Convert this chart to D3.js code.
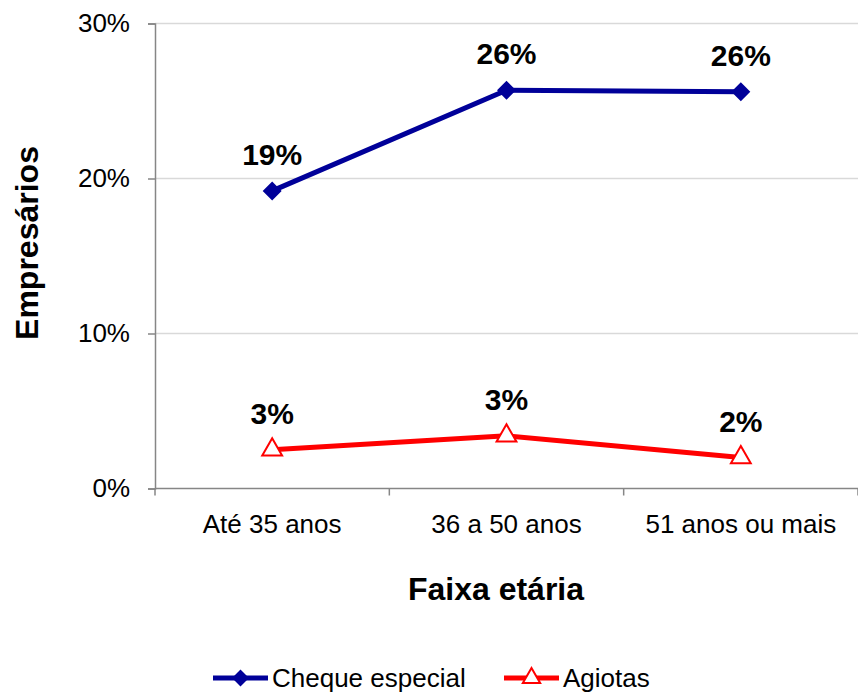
<!DOCTYPE html>
<html>
<head>
<meta charset="utf-8">
<script src="https://d3js.org/d3.v7.min.js"></script>
<style>
  body { margin: 0; background: #fff; }
  svg text { font-family: "Liberation Sans", Arial, sans-serif; fill: #000; }
</style>
</head>
<body>
<svg id="chart" width="858" height="694"></svg>
<script>
// data
const categories = ["Até 35 anos", "36 a 50 anos", "51 anos ou mais"];
const chequeEspecial = [0.192, 0.257, 0.256];
const agiotas = [0.025, 0.034, 0.020];
const yTicks = [0, 0.1, 0.2, 0.3];
const seriesNames = ["Cheque especial", "Agiotas"];

const svg = d3.select("#chart");
const plotLeft = 155, plotRight = 858, plotTop = 23.5, plotBottom = 488.5;

const x = d3.scaleBand().domain(categories).range([plotLeft, plotRight]).padding(0);
const y = d3.scaleLinear().domain([0, 0.3]).range([plotBottom, plotTop]);
const fmt = d3.format(".0%");

// gridlines
svg.append("g").selectAll("line")
  .data(yTicks.filter(d => d > 0))
  .enter().append("line")
  .attr("x1", plotLeft).attr("x2", plotRight)
  .attr("y1", d => y(d)).attr("y2", d => y(d))
  .attr("stroke", "#d9d9d9").attr("stroke-width", 1.5);

// y axis
const yAxis = svg.append("g")
  .attr("transform", `translate(${plotLeft},0)`)
  .call(d3.axisLeft(y).tickValues(yTicks).tickFormat(fmt).tickSize(7).tickPadding(18));
yAxis.select(".domain").attr("stroke", "#868686").attr("stroke-width", 1.5);
yAxis.selectAll(".tick line").attr("stroke", "#868686").attr("stroke-width", 1.5);
yAxis.selectAll("text").attr("font-size", 26).attr("font-family", "Liberation Sans, Arial, sans-serif");

// x axis with ticks at band edges
const xAxis = svg.append("g").attr("transform", `translate(0,${plotBottom})`);
xAxis.append("line").attr("x1", plotLeft).attr("x2", plotRight)
  .attr("stroke", "#868686").attr("stroke-width", 1.5);
const edges = categories.map(c => x(c)).concat([x(categories[categories.length - 1]) + x.bandwidth()]);
xAxis.selectAll(".edge").data(edges).enter().append("line")
  .attr("x1", d => d).attr("x2", d => d).attr("y1", 0).attr("y2", 7)
  .attr("stroke", "#868686").attr("stroke-width", 1.5);
xAxis.selectAll(".lbl").data(categories).enter().append("text")
  .attr("x", d => x(d) + x.bandwidth() / 2)
  .attr("y", 44)
  .attr("text-anchor", "middle")
  .attr("font-size", 26)
  .text(d => d);

// axis titles
svg.append("text")
  .attr("x", 496).attr("y", 600)
  .attr("text-anchor", "middle")
  .attr("font-size", 32).attr("font-weight", "bold")
  .text("Faixa etária");
svg.append("text")
  .attr("transform", "translate(38,243) rotate(-90)")
  .attr("text-anchor", "middle")
  .attr("font-size", 32).attr("font-weight", "bold")
  .text("Empresários");

const cx = d => x(d) + x.bandwidth() / 2;
const line = d3.line().x(d => cx(d.c)).y(d => y(d.v));

function marker(sel, type, color, fill, size) {
  const rot = type === d3.symbolSquare ? " rotate(45)" : "";
  sel.attr("d", d3.symbol().type(type).size(size))
    .attr("fill", fill).attr("stroke", color).attr("stroke-width", 2)
    .attr("transform", function () { return d3.select(this).attr("transform") + rot; });
}

function drawSeries(values, color, symbolType, fill, size) {
  const pts = values.map((v, i) => ({ c: categories[i], v }));
  svg.append("path").datum(pts)
    .attr("d", line)
    .attr("fill", "none").attr("stroke", color).attr("stroke-width", 5);
  svg.append("g").selectAll("path").data(pts).enter().append("path")
    .attr("transform", d => `translate(${cx(d.c)},${y(d.v)})`)
    .call(marker, symbolType, color, fill, size);
  svg.append("g").selectAll("text").data(pts).enter().append("text")
    .attr("x", d => cx(d.c)).attr("y", d => y(d.v) - 26)
    .attr("text-anchor", "middle")
    .attr("font-size", 30).attr("font-weight", "bold")
    .text(d => fmt(d.v));
}

drawSeries(chequeEspecial, "#000099", d3.symbolSquare, "#000099", 130);
drawSeries(agiotas, "#ff0000", d3.symbolTriangle, "#ffffff", 170);

// legend
const legend = [
  { name: seriesNames[0], color: "#000099", sym: d3.symbolSquare, fill: "#000099", size: 100, x: 213 },
  { name: seriesNames[1], color: "#ff0000", sym: d3.symbolTriangle, fill: "#ffffff", size: 130, x: 504 }
];
const lg = svg.append("g").attr("transform", "translate(0,678)");
legend.forEach(l => {
  lg.append("line").attr("x1", l.x).attr("x2", l.x + 55).attr("y1", 0).attr("y2", 0)
    .attr("stroke", l.color).attr("stroke-width", 5);
  lg.append("path").attr("transform", `translate(${l.x + 27.5},0)`)
    .call(marker, l.sym, l.color, l.fill, l.size);
  lg.append("text").attr("x", l.x + 59).attr("y", 9)
    .attr("font-size", 26).text(l.name);
});
</script>
</body>
</html>
